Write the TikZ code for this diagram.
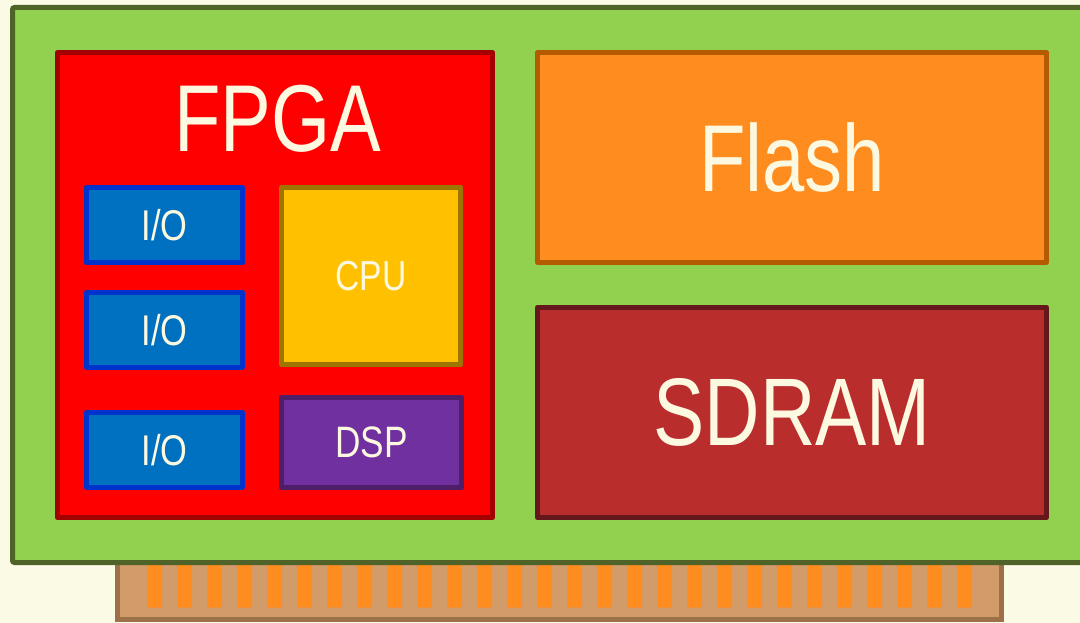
\documentclass[tikz,border=0pt]{standalone}
\usepackage{fontspec}
\newfontfamily\lbl[FakeStretch=0.8]{Liberation Sans}
\definecolor{paper}{HTML}{FBFAE5}
\definecolor{boardfill}{HTML}{92D050}
\definecolor{boardline}{HTML}{4F6228}
\definecolor{fpgafill}{HTML}{FF0000}
\definecolor{fpgaline}{HTML}{A30000}
\definecolor{flashfill}{HTML}{FF8C1E}
\definecolor{flashline}{HTML}{B45A00}
\definecolor{ramfill}{HTML}{B92D2D}
\definecolor{ramline}{HTML}{64181B}
\definecolor{iofill}{HTML}{0070C0}
\definecolor{ioline}{HTML}{0033CC}
\definecolor{cpufill}{HTML}{FFC000}
\definecolor{cpuline}{HTML}{9C7600}
\definecolor{dspfill}{HTML}{7030A0}
\definecolor{dspline}{HTML}{4E1E68}
\definecolor{edgefill}{HTML}{D19B6A}
\definecolor{edgeline}{HTML}{9C7049}
\definecolor{fingercol}{HTML}{FF8C1E}
\definecolor{ink}{HTML}{FDF9E0}
\tikzset{
  block/.style={rectangle, draw, line width=5pt, line join=round, inner sep=0pt,
    text=ink, font=\lbl\fontsize{#1}{#1}\selectfont},
  block/.default=43,
  biglabel/.style={inner sep=0pt, text=ink, font=\lbl\fontsize{95}{95}\selectfont},
  finger/.style={fill=fingercol, rounded corners=1pt},
}
\begin{document}
\begin{tikzpicture}[x=1pt, y=-1pt]
  \fill[paper] (0,0) rectangle (1080,623);
  \useasboundingbox (0,0) rectangle (1080,623);

  % edge connector with its contact fingers
  \draw[fill=edgefill, draw=edgeline, line width=5pt] (117,540) rectangle (1001,619.5);
  \foreach \i in {0,...,27}
    \path[finger] ({147+30*\i},560) rectangle ({162+30*\i},607.5);

  % circuit board
  \draw[fill=boardfill, draw=boardline, line width=5pt, rounded corners=2pt]
    (12.5,7.5) rectangle (1100,562.5);

  % main parts
  \node[block, fill=fpgafill, draw=fpgaline, minimum width=435pt, minimum height=465pt]
    (fpga) at (275,285) {};
  \node[biglabel, anchor=base] (fpgatext) at (277.5,152) {FPGA};
  \node[block=95, fill=flashfill, draw=flashline, minimum width=509pt, minimum height=210pt]
    (flash) at (792,157.5) {Flash};
  \node[block=96, fill=ramfill, draw=ramline, minimum width=509pt, minimum height=210pt]
    (sdram) at (792,412.5) {SDRAM};

  % blocks inside the FPGA
  \node[block, fill=iofill, draw=ioline, minimum width=156pt, minimum height=75pt]
    (io1) at (164.5,225) {I/O};
  \node[block, fill=iofill, draw=ioline, minimum width=156pt, minimum height=75pt]
    (io2) at (164.5,330) {I/O};
  \node[block, fill=iofill, draw=ioline, minimum width=156pt, minimum height=75pt]
    (io3) at (164.5,450) {I/O};
  \node[block=42, fill=cpufill, draw=cpuline, minimum width=179pt, minimum height=177pt]
    (cpu) at (371,276) {CPU};
  \node[block=44, fill=dspfill, draw=dspline, minimum width=180pt, minimum height=90pt]
    (dsp) at (371.5,442.5) {DSP};
\end{tikzpicture}
\end{document}
